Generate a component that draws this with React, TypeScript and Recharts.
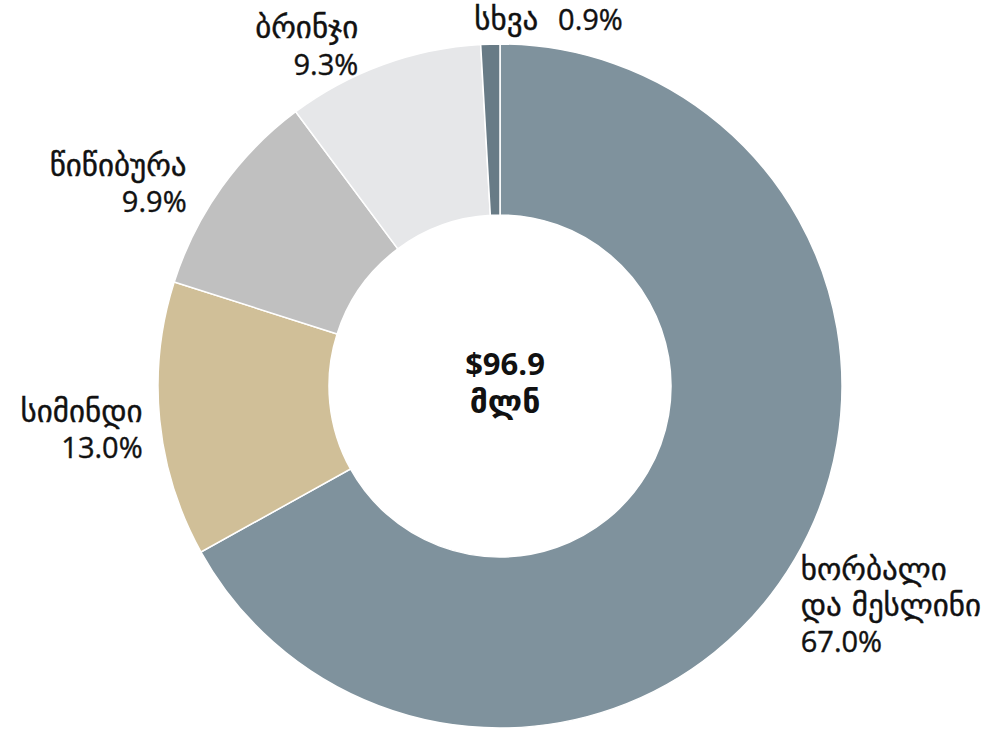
import { Cell, Pie, PieChart } from "recharts";

const categories = ["ხორბალი და მესლინი", "სიმინდი", "წიწიბურა", "ბრინჯი", "სხვა"];
const shares = [67.0, 13.0, 9.9, 9.3, 0.9];
const totalLabel = ["$96.9", "მლნ"];

const sliceColors = ["#7f929d", "#d0bf98", "#c0c0c0", "#e6e7e9", "#687b86"];

// label placement per slice: lines, anchor, offset of first baseline from the outer mid point
const labelLayout = [
  { lines: ["ხორბალი", "და მესლინი", "67.0%"], anchor: "start", dx: 6, dy: 21, gap: 36 },
  { lines: ["სიმინდი", "13.0%"], anchor: "end", dx: -17, dy: 2, gap: 36 },
  { lines: ["წიწიბურა", "9.9%"], anchor: "end", dx: -35, dy: -11, gap: 36 },
  { lines: ["ბრინჯი", "9.3%"], anchor: "end", dx: -25, dy: -27, gap: 37 },
  { lines: ["სხვა  0.9%"], anchor: "start", dx: -16, dy: -14, gap: 0 },
];

const data = categories.map((name, i) => ({ name, value: shares[i] }));

const GEO_FONT = "'DejaVu Sans', sans-serif";
const LATIN_FONT = "'Open Sans', sans-serif";
const RADIAN = Math.PI / 180;
const GEO = /[\u10A0-\u10FF]/;

// DejaVu's Georgian glyphs run small, so Georgian and Latin runs get their own font and size
function runs(line: string, latin: number, geo: number) {
  const parts: { text: string; geo: boolean }[] = [];
  for (const ch of line) {
    const isGeo = GEO.test(ch);
    const last = parts[parts.length - 1];
    if (last && (last.geo === isGeo || ch === " ")) last.text += ch;
    else parts.push({ text: ch, geo: isGeo });
  }
  return parts.map((p, i) => (
    <tspan
      key={i}
      fontSize={p.geo ? geo : latin}
      fontFamily={p.geo ? GEO_FONT : LATIN_FONT}
      style={{ whiteSpace: "pre" }}
    >
      {p.text}
    </tspan>
  ));
}

function SliceLabel(props: any) {
  const { cx, cy, midAngle, outerRadius, index } = props;
  const layout = labelLayout[index];
  const px = cx + outerRadius * Math.cos(-midAngle * RADIAN);
  const py = cy + outerRadius * Math.sin(-midAngle * RADIAN);
  const x = px + layout.dx;
  const y = py + layout.dy;
  return (
    <text
      x={x}
      y={y}
      textAnchor={layout.anchor}
      fontWeight={500}
      fill="#111"
      stroke="#111"
      strokeWidth={0.4}
      style={{ whiteSpace: "pre" }}
    >
      {layout.lines.map((line, i) => (
        <tspan key={i} x={x} y={y + i * layout.gap}>
          {runs(line, 29, 31)}
        </tspan>
      ))}
    </text>
  );
}

export default function App() {
  return (
    <div style={{ position: "absolute", left: 0, top: 0, width: 1005, height: 731, background: "#fff" }}>
      <PieChart width={1005} height={731} margin={{ top: 0, right: 0, bottom: 0, left: 0 }}>
        <Pie
          data={data}
          dataKey="value"
          nameKey="name"
          cx={500}
          cy={386}
          innerRadius={171}
          outerRadius={342}
          startAngle={90}
          endAngle={-270}
          stroke="#ffffff"
          strokeWidth={1.5}
          label={SliceLabel}
          labelLine={false}
          isAnimationActive={false}
        >
          {data.map((entry, i) => (
            <Cell key={entry.name} fill={sliceColors[i]} />
          ))}
        </Pie>
        <text x={505} textAnchor="middle" fontWeight="bold" fill="#111">
          <tspan x={505} y={375}>{runs(totalLabel[0], 31, 32)}</tspan>
          <tspan x={505} y={413}>{runs(totalLabel[1], 31, 32)}</tspan>
        </text>
      </PieChart>
    </div>
  );
}
